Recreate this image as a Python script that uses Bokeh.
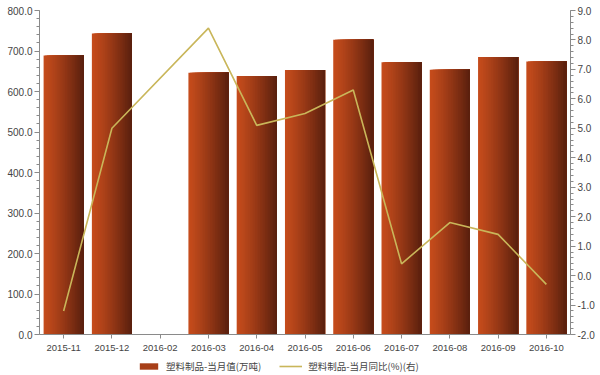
from bokeh.plotting import figure
from bokeh.layouts import column
from bokeh.models import (ColumnDataSource, FactorRange, Range1d, LinearAxis,
                          SingleIntervalTicker, NumeralTickFormatter, Legend, LegendItem)
from bokeh.transform import dodge
from bokeh.embed import file_html
from bokeh.resources import INLINE

# ---- data ----
months = ["2015-11", "2015-12", "2016-02", "2016-03", "2016-04", "2016-05",
          "2016-06", "2016-07", "2016-08", "2016-09", "2016-10"]
output_vals = [689, 743, 0, 646, 638, 653, 728, 672, 654, 685, 674]
yoy_vals = [-1.2, 5.0, None, 8.4, 5.1, 5.5, 6.3, 0.4, 1.8, 1.4, -0.3]
bar_label = "塑料制品-当月值(万吨)"
line_label = "塑料制品-当月同比(%)(右)"

bar_left = (198, 76, 28)
bar_right = (88, 31, 14)
line_col = "#c9b65a"
axis_col = "#8a8a8a"
lab_col = "#444444"

# ---- main figure ----
p = figure(frame_width=531, frame_height=324, output_backend="svg", toolbar_location=None,
           x_range=FactorRange(factors=months, range_padding=0),
           y_range=Range1d(0, 800),
           min_border_left=39, min_border_right=18, min_border_top=10,
           min_border_bottom=0)
p.outline_line_color = None
p.xgrid.visible = False
p.ygrid.visible = False
p.extra_y_ranges = {"yoy": Range1d(-2, 9)}

ya = p.yaxis[0]
ya.ticker = SingleIntervalTicker(interval=100, num_minor_ticks=5)
ya.formatter = NumeralTickFormatter(format="0.0")
ra = LinearAxis(y_range_name="yoy",
                ticker=SingleIntervalTicker(interval=1, num_minor_ticks=5),
                formatter=NumeralTickFormatter(format="0.0"))
p.add_layout(ra, "right")
for ax in (ya, ra):
    ax.major_tick_in = 0
    ax.major_tick_out = 5
    ax.minor_tick_in = 0
    ax.minor_tick_out = 3
    ax.axis_line_color = axis_col
    ax.major_tick_line_color = axis_col
    ax.minor_tick_line_color = axis_col
    ax.major_label_text_font = "Liberation Sans"
    ax.major_label_text_font_size = "10px"
    ax.major_label_text_color = lab_col
    ax.major_label_standoff = 2

xa = p.xaxis[0]
xa.major_tick_in = 0
xa.major_tick_out = 4
xa.axis_line_color = axis_col
xa.major_tick_line_color = axis_col
xa.major_label_text_font = "Liberation Sans"
xa.major_label_text_font_size = "9.5px"
xa.major_label_text_color = lab_col
xa.major_label_standoff = 6

# bars with a horizontal gradient (overlapping strips, no seams)
src = ColumnDataSource(dict(month=months, value=output_vals))
n = 24
bar_w = 0.83
sw = bar_w / n


def grad(t):
    tt = t ** 1.2
    c = tuple(int(round(bar_left[k] + (bar_right[k] - bar_left[k]) * tt)) for k in range(3))
    return "#%02x%02x%02x" % c


for i in range(n):
    w = bar_w - i * sw
    off = -bar_w / 2 + i * sw + w / 2
    p.vbar(x=dodge("month", off, range=p.x_range), top="value", bottom=0,
           width=w, source=src, fill_color=grad((i + 0.5) / n), line_color=None)

line_src = ColumnDataSource(dict(
    month=[m for m, v in zip(months, yoy_vals) if v is not None],
    yoy=[v for v in yoy_vals if v is not None]))
p.line(x="month", y="yoy", source=line_src, y_range_name="yoy",
       line_color=line_col, line_width=1.6)

# ---- legend strip (separate small figure under the chart) ----
lf = figure(width=594, height=20, output_backend="svg", toolbar_location=None,
            x_axis_type=None, y_axis_type=None,
            x_range=Range1d(0, 1), y_range=Range1d(0, 1), min_border=0)
lf.outline_line_color = None
lf.xgrid.visible = False
lf.ygrid.visible = False
# legend proxies, kept outside the visible range of the strip
proxy = ColumnDataSource(dict(x=[-5.0, -4.0], y=[-5.0, -5.0]))
rb = lf.vbar(x="x", top="y", width=0.1, source=proxy,
             fill_color=grad(0.35), line_color=None)
rl = lf.line(x="x", y="y", source=proxy, line_color=line_col, line_width=1.6)
legend = Legend(items=[LegendItem(label=bar_label, renderers=[rb], index=0),
                       LegendItem(label=line_label, renderers=[rl])],
                orientation="horizontal", location=(98, 0),
                glyph_width=23, glyph_height=8, label_standoff=6, spacing=18,
                padding=1, margin=0, border_line_color=None,
                background_fill_alpha=0,
                label_text_font="Noto Sans CJK SC", label_text_font_size="9.5px",
                label_text_color=lab_col, label_height=11)
lf.add_layout(legend, "center")

layout = column(p, lf, spacing=0)
open("out.html", "w").write(file_html(layout, INLINE))
